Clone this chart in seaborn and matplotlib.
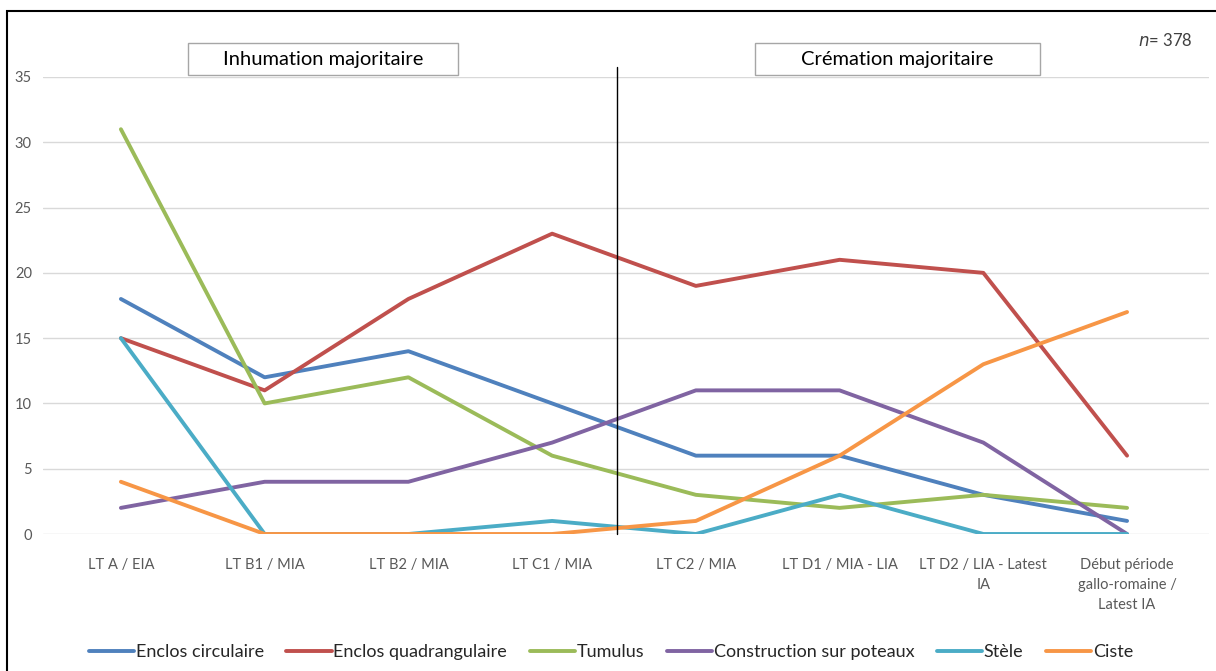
import numpy as np
import pandas as pd
import matplotlib
matplotlib.use("Agg")
import matplotlib.pyplot as plt
from matplotlib.patches import Rectangle
import seaborn as sns

# --- data ---
periods = [
    "LT A / EIA",
    "LT B1 / MIA",
    "LT B2 / MIA",
    "LT C1 / MIA",
    "LT C2 / MIA",
    "LT D1 / MIA - LIA",
    "LT D2 / LIA - Latest\nIA",
    "Début période\ngallo-romaine /\nLatest IA",
]
series_names = ["Enclos circulaire", "Enclos quadrangulaire", "Tumulus",
                "Construction sur poteaux", "Stèle", "Ciste"]
enclos_circulaire = [18, 12, 14, 10, 6, 6, 3, 1]
enclos_quadrangulaire = [15, 11, 18, 23, 19, 21, 20, 6]
tumulus = [31, 10, 12, 6, 3, 2, 3, 2]
construction_poteaux = [2, 4, 4, 7, 11, 11, 7, 0]
stele = [15, 0, 0, 1, 0, 3, 0, 0]
ciste = [4, 0, 0, 0, 1, 6, 13, 17]
series_values = [enclos_circulaire, enclos_quadrangulaire, tumulus,
                 construction_poteaux, stele, ciste]
colors = ["#4F81BD", "#C0504D", "#9BBB59", "#8064A2", "#4BACC6", "#F79646"]

rows = []
for name, vals in zip(series_names, series_values):
    for i, v in enumerate(vals):
        rows.append({"pos": i, "count": v, "type": name})
df = pd.DataFrame(rows)

sns.set_theme(style="white")
plt.rcParams["font.family"] = ["Lato", "DejaVu Sans"]

W, H = 1216, 671
fig = plt.figure(figsize=(W / 100, H / 100), dpi=100)
ax = fig.add_axes([43 / W, 1 - 534 / H, (1209 - 43) / W, (534 - 77) / H])

sns.lineplot(data=df, x="pos", y="count", hue="type", hue_order=series_names,
             palette=colors, linewidth=2.8, sort=False, ax=ax, legend=True)

ax.set_xlim(-0.542, 7.57)
ax.set_ylim(0, 35)
ax.set_yticks(range(0, 36, 5))
ax.set_xticks(range(len(periods)))
ax.set_xticklabels(periods, fontsize=10.5, color="#595959", linespacing=1.55)
ax.tick_params(axis="y", labelsize=10.5, labelcolor="#595959", pad=8, length=0)
ax.tick_params(axis="x", length=0, pad=17)
ax.yaxis.grid(True, color="#D9D9D9", linewidth=1)
ax.set_axisbelow(True)
for s in ax.spines.values():
    s.set_visible(False)
ax.set_xlabel("")
ax.set_ylabel("")

# separation line between inhumation and cremation phases
ax.plot([3.45, 3.45], [0, 35.8], color="black", linewidth=1, clip_on=False)

# phase label boxes
for x0, x1, label in [(188, 458, "Inhumation majoritaire"),
                      (755, 1040, "Crémation majoritaire")]:
    fig.patches.append(Rectangle((x0 / W, 1 - 75 / H), (x1 - x0) / W, 32 / H,
                                 transform=fig.transFigure, facecolor="white",
                                 edgecolor="#A6A6A6", linewidth=1))
    fig.text((x0 + x1) / 2 / W, 1 - 59 / H, label, ha="center", va="center",
             fontsize=14.5, color="black")

fig.text(1192 / W, 1 - 40 / H, r"$\it{n}$= 378", ha="right", va="center",
         fontsize=12, color="#404040")

# legend at the bottom
handles, labels = ax.get_legend_handles_labels()
ax.legend(handles, labels, loc="center", bbox_to_anchor=(611 / W, 1 - 652 / H),
          bbox_transform=fig.transFigure, ncol=6, frameon=False, fontsize=13,
          handlelength=2.5, handletextpad=0.1, columnspacing=1.25)

# outer frame
fig.patches.append(Rectangle((7 / W, -0.02), 1.02, 1 - 11 / H + 0.02,
                             transform=fig.transFigure, fill=False,
                             edgecolor="black", linewidth=1.5))

fig.savefig("out.png", dpi=100)
